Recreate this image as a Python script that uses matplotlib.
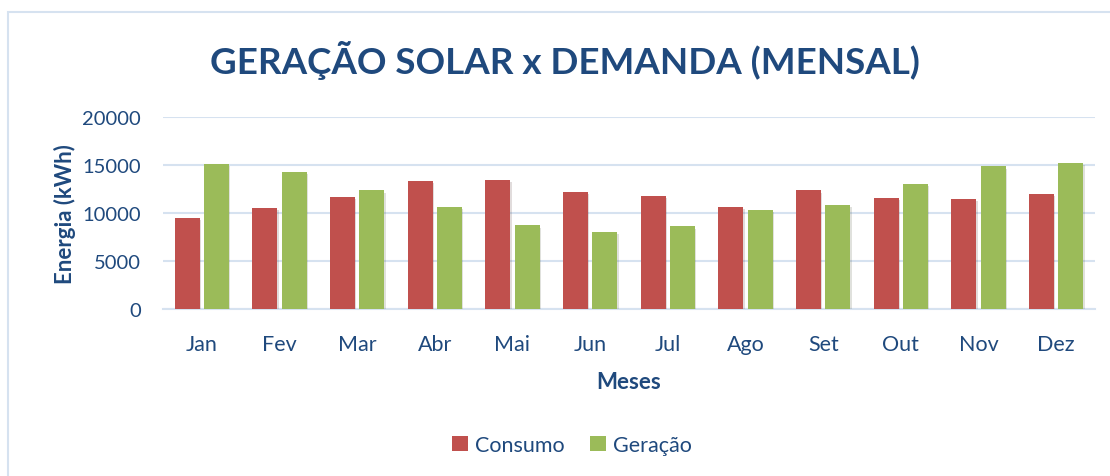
import matplotlib
matplotlib.use("Agg")
from matplotlib import pyplot as plt
from matplotlib import patheffects as pe
from matplotlib.patches import Rectangle
import numpy as np

meses = ["Jan", "Fev", "Mar", "Abr", "Mai", "Jun", "Jul", "Ago", "Set", "Out", "Nov", "Dez"]
consumo = [9500, 10500, 11650, 13300, 13400, 12200, 11750, 10600, 12350, 11600, 11450, 11950]
geracao = [15100, 14300, 12350, 10600, 8700, 8000, 8600, 10300, 10850, 13050, 14850, 15250]

azul = "#1F497D"
vermelho = "#C0504D"
verde = "#9BBB59"
grade = "#D6E2F0"

plt.rcParams["font.family"] = ["Lato", "DejaVu Sans"]

fig = plt.figure(figsize=(11.1, 4.77), dpi=100)
ax = fig.add_axes([163 / 1110, 1 - 310 / 477, 932 / 1110, 192 / 477])

# moldura do grafico
fig.patches.append(Rectangle((8 / 1110, -0.1), 1.2, 1 - 13 / 477 + 0.1,
                             transform=fig.transFigure, fill=False,
                             edgecolor=grade, linewidth=1.5))

x = np.arange(len(meses))
larg = 0.32
sombra = [pe.SimplePatchShadow(offset=(1, -1.5), alpha=0.15), pe.Normal()]
b1 = ax.bar(x - 0.19, consumo, larg, color=vermelho, label="Consumo", zorder=3)
b2 = ax.bar(x + 0.19, geracao, larg, color=verde, label="Geração", zorder=3)
for b in list(b1) + list(b2):
    b.set_path_effects(sombra)

ax.set_xlim(-0.5, 11.5)
ax.set_ylim(0, 20000)
ax.set_yticks([0, 5000, 10000, 15000, 20000])
ax.set_xticks(x)
ax.set_xticklabels(meses)
ax.grid(axis="y", color=grade, linewidth=1.5, zorder=0)
ax.set_axisbelow(True)
for s in ["top", "right", "left"]:
    ax.spines[s].set_visible(False)
ax.spines["bottom"].set_color(grade)
ax.spines["bottom"].set_linewidth(1.5)
ax.tick_params(length=0, labelcolor=azul)
ax.tick_params(axis="x", pad=18, labelsize=15.5)
ax.tick_params(axis="y", pad=16, labelsize=14.5)

ax.set_xlabel("Meses", fontsize=16, fontweight="bold", color=azul, labelpad=12)
ax.set_ylabel("Energia (kWh)", fontsize=16, fontweight="bold", color=azul, labelpad=4)

fig.text(565 / 1110, 1 - 60 / 477, "GERAÇÃO SOLAR x DEMANDA (MENSAL)",
         ha="center", va="center", fontsize=26.5, fontweight="bold", color=azul)

leg = fig.legend(handles=[b1, b2], loc="center", bbox_to_anchor=(572 / 1110, 1 - 446 / 477),
                 ncol=2, frameon=False, fontsize=15.5, handlelength=0.75, handleheight=0.75,
                 handletextpad=0.3, columnspacing=1.2)
for t in leg.get_texts():
    t.set_color(azul)
for h in leg.legend_handles:
    h.set_path_effects([])

fig.savefig("out.png", dpi=100)
